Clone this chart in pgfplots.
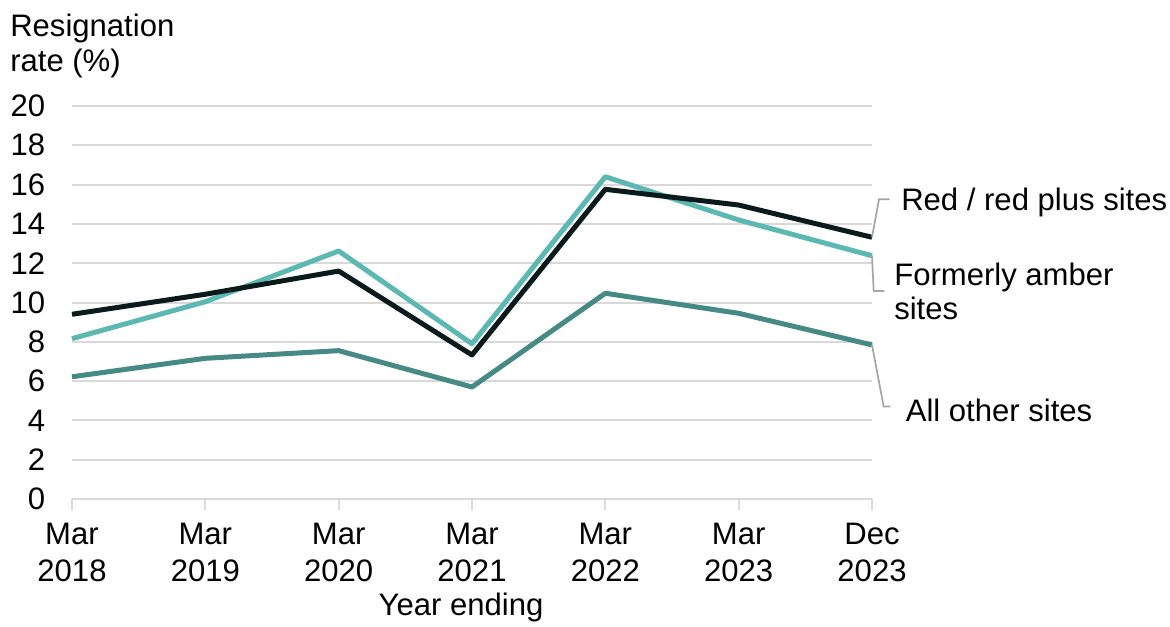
\documentclass[border=0pt]{standalone}
\usepackage{pgfplots}
\pgfplotsset{compat=1.18}
\usepackage{fontspec}
\setmainfont{Liberation Sans}
\definecolor{cblack}{HTML}{0B1A1A}
\definecolor{clight}{HTML}{5CB8B2}
\definecolor{cdark}{HTML}{468A85}
\definecolor{cgrid}{HTML}{D9D9D9}
\definecolor{clead}{HTML}{A6A6A6}
\newcommand\PX[2]{({(#1)*0.75pt},{(626-#2)*0.75pt})}
\begin{document}
\fontsize{23.3pt}{27.4pt}\selectfont
\begin{tikzpicture}
\useasboundingbox (0pt,0pt) rectangle (877.5pt,469.5pt);
\begin{axis}[
  at={(54pt,95.25pt)}, anchor=south west,
  scale only axis, width=600pt, height=294.75pt,
  xmin=0, xmax=6, ymin=0, ymax=20,
  xtick={0,1,2,3,4,5,6},
  xticklabels={{Mar\\2018},{Mar\\2019},{Mar\\2020},{Mar\\2021},{Mar\\2022},{Mar\\2023},{Dec\\2023}},
  ytick={0,2,...,20},
  axis lines*=left,
  y axis line style={draw=none},
  x axis line style={cgrid, line width=1.5pt, -},
  ymajorgrids, grid style={cgrid, line width=1.5pt},
  xtick align=outside, major tick length=8.25pt,
  x tick style={cgrid, line width=1.5pt},
  y tick style={draw=none},
  tick label style={font=\fontsize{23.3pt}{27.4pt}\selectfont, text=black},
  xticklabel style={align=center, anchor=north, inner sep=0pt, yshift=-10pt},
  yticklabel style={anchor=east, inner sep=0pt, xshift=-20pt},
  /pgf/number format/assume math mode=true,
  clip=false,
  every axis plot/.append style={line width=3.75pt, line join=round, mark=none},
]
\addplot[cdark] coordinates {(0,6.22) (1,7.16) (2,7.55) (3,5.7) (4,10.47) (5,9.45) (6,7.84)};
\addplot[clight] coordinates {(0,8.16) (1,10.04) (2,12.62) (3,7.9) (4,16.4) (5,14.2) (6,12.38)};
\addplot[cblack] coordinates {(0,9.4) (1,10.42) (2,11.6) (3,7.33) (4,15.76) (5,14.96) (6,13.32)};
\draw[clead, line width=1.3pt] (axis cs:6,13.32) -- ++(5.25pt,28.5pt) -- ++(8pt,0pt);
\draw[clead, line width=1.3pt] (axis cs:6,12.38) -- ++(1.25pt,-26.5pt) -- ++(8pt,0pt);
\draw[clead, line width=1.3pt] (axis cs:6,7.84) -- ++(8.75pt,-46.25pt) -- ++(5pt,0pt);
\end{axis}
\node[anchor=base west, inner sep=0] at \PX{10}{36.7} {Resignation};
\node[anchor=base west, inner sep=0] at \PX{10}{71.7} {rate (\%)};
\node[anchor=base west, inner sep=0] at \PX{901}{210.7} {Red / red plus sites};
\node[anchor=base west, inner sep=0] at \PX{894}{285} {Formerly amber};
\node[anchor=base west, inner sep=0] at \PX{894}{319} {sites};
\node[anchor=base west, inner sep=0] at \PX{905.5}{421.7} {All other sites};
\node[anchor=base, inner sep=0] at \PX{461}{615} {Year ending};
\end{tikzpicture}
\end{document}
